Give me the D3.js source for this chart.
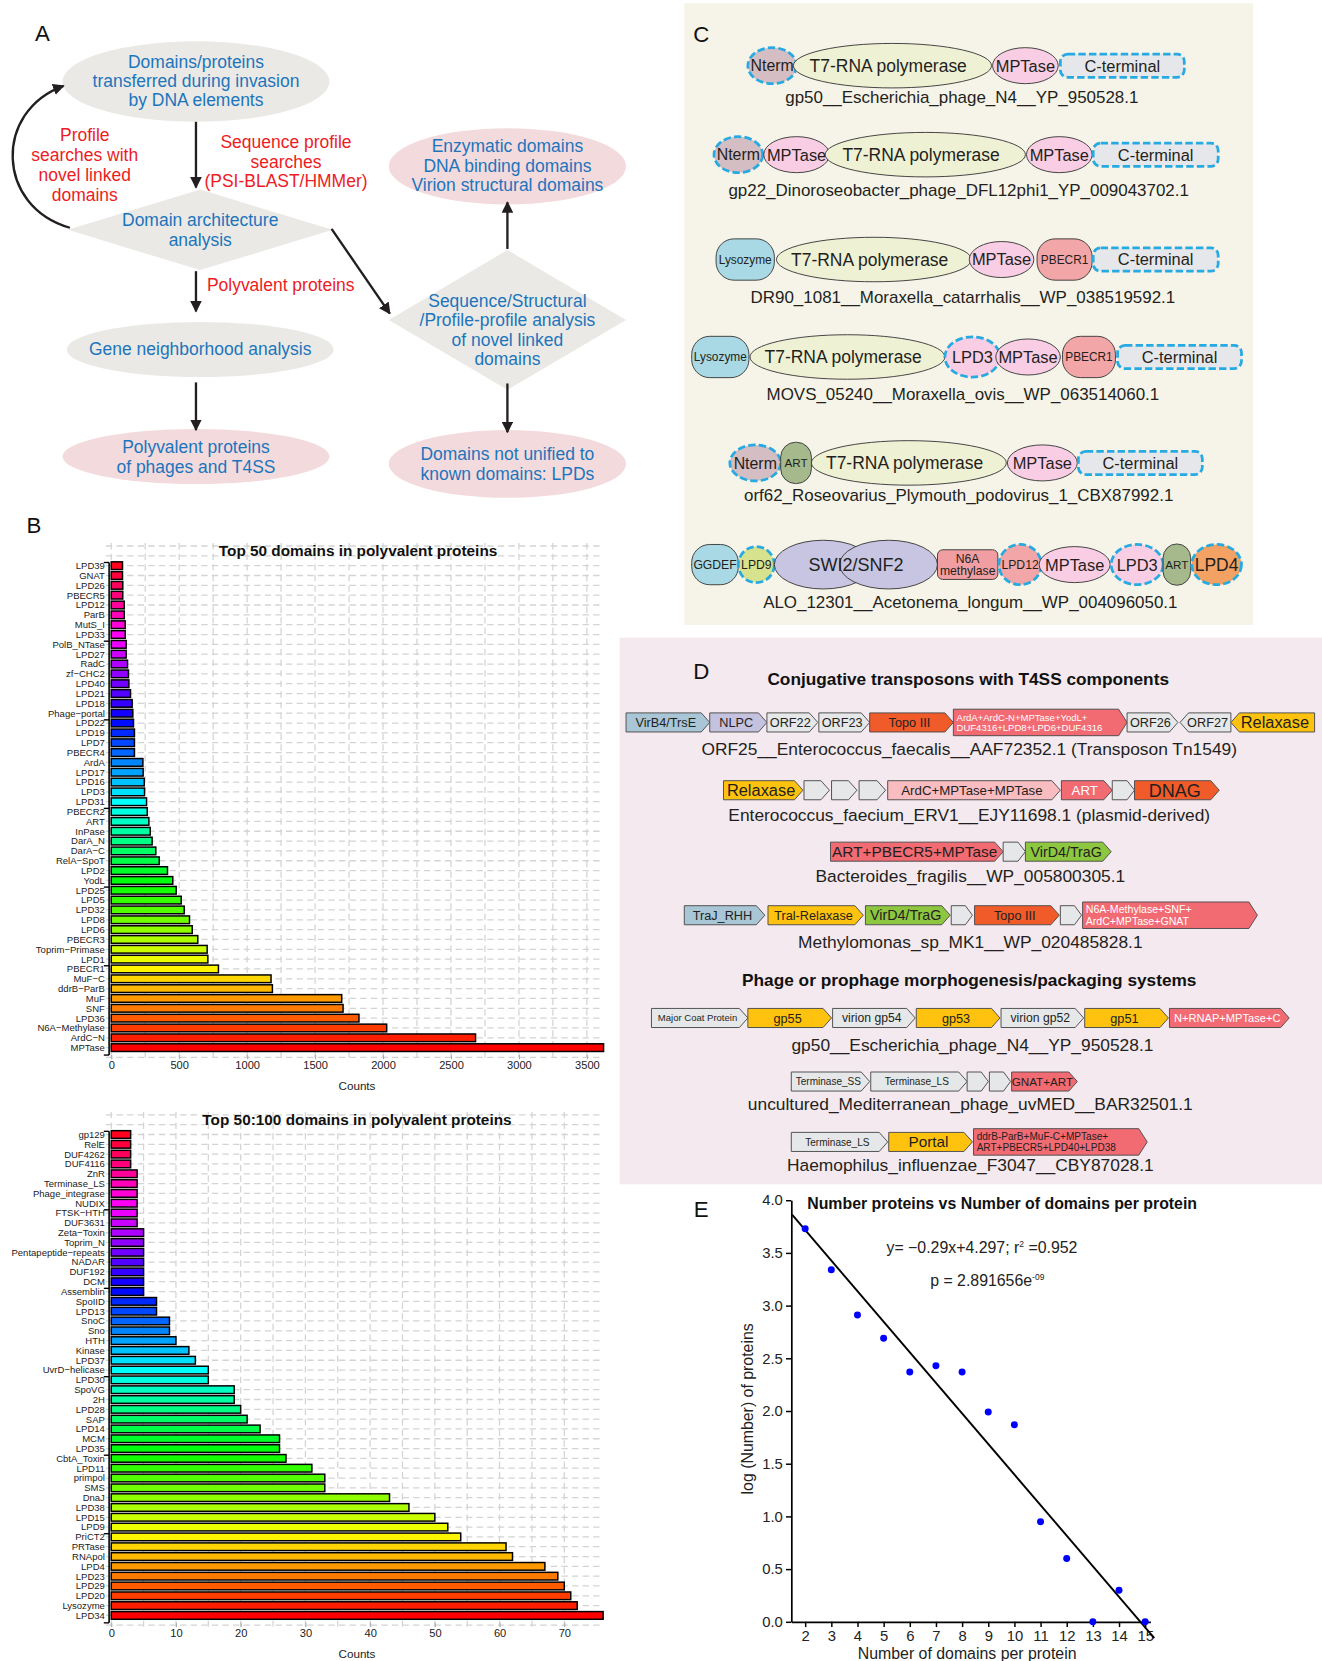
<!DOCTYPE html>
<html>
<head>
<meta charset="utf-8">
<script src="https://cdn.jsdelivr.net/npm/d3@7"></script>
<style>
  body { margin: 0; background: #fff; }
  svg { display: block; }
  text { font-family: "Liberation Sans", Arial, sans-serif; }
  .narrow { font-family: "Liberation Sans Narrow", "Liberation Sans", Arial, sans-serif; }
</style>
</head>
<body>
<svg width="1322" height="1661"></svg>
<script>
// ---------- data: panel B ----------
const top50Labels = ["LPD39","GNAT","LPD26","PBECR5","LPD12","ParB","MutS_I","LPD33","PolB_NTase","LPD27",
  "RadC","zf\u2212CHC2","LPD40","LPD21","LPD18","Phage\u2212portal","LPD22","LPD19","LPD7","PBECR4",
  "ArdA","LPD17","LPD16","LPD3","LPD31","PBECR2","ART","InPase","DarA_N","DarA\u2212C",
  "RelA\u2212SpoT","LPD2","YodL","LPD25","LPD5","LPD32","LPD8","LPD6","PBECR3","Toprim\u2212Primase",
  "LPD1","PBECR1","MuF\u2212C","ddrB\u2212ParB","MuF","SNF","LPD36","N6A\u2212Methylase","ArdC\u2212N","MPTase"];
const top50Counts = [83,83,85,85,96,96,103,103,110,110,120,127,130,142,154,159,164,171,171,171,
  233,235,243,245,260,265,277,287,301,328,353,414,453,478,515,537,576,596,637,706,
  711,789,1176,1186,1696,1706,1823,2027,2681,3623];
const top50Ticks = [0,500,1000,1500,2000,2500,3000,3500];

const next50Labels = ["gp129","RelE","DUF4262","DUF4116","ZnR","Terminase_LS","Phage_integrase","NUDIX","FTSK\u2212HTH","DUF3631",
  "Zeta\u2212Toxin","Toprim_N","Pentapeptide\u2212repeats","NADAR","DUF192","DCM","Assemblin","SpoIID","LPD13","SnoC",
  "Sno","HTH","Kinase","LPD37","UvrD\u2212helicase","LPD30","SpoVG","2H","LPD28","SAP",
  "LPD14","MCM","LPD35","CbtA_Toxin","LPD11","primpol","SMS","DnaJ","LPD38","LPD15",
  "LPD9","PriCT2","PRTase","RNApol","LPD4","LPD23","LPD29","LPD20","Lysozyme","LPD34"];
const next50Counts = [3,3,3,3,4,4,4,4,4,4,5,5,5,5,5,5,5,7,7,9,
  9,10,12,13,15,15,19,19,20,21,23,26,26,27,31,33,33,43,46,50,
  52,54,61,62,67,69,70,71,72,76];
const next50Ticks = [0,10,20,30,40,50,60,70];

// ---------- data: panel E ----------
const domainsPerProtein = [2,3,4,5,6,7,8,9,10,11,12,13,14,15];
const logProteins = [3.73,3.34,2.91,2.69,2.37,2.43,2.37,1.99,1.87,0.95,0.60,0.00,0.30,0.00];
const fitSlope = -0.29, fitIntercept = 4.297;
const eYTicks = [0,0.5,1,1.5,2,2.5,3,3.5,4];

// ---------- data: panel C (domain architectures) ----------
const archLabels = ["gp50__Escherichia_phage_N4__YP_950528.1",
  "gp22_Dinoroseobacter_phage_DFL12phi1_YP_009043702.1",
  "DR90_1081__Moraxella_catarrhalis__WP_038519592.1",
  "MOVS_05240__Moraxella_ovis__WP_063514060.1",
  "orf62_Roseovarius_Plymouth_podovirus_1_CBX87992.1",
  "ALO_12301__Acetonema_longum__WP_004096050.1"];
const archDomains = [
  ["Nterm","T7-RNA polymerase","MPTase","C-terminal"],
  ["Nterm","MPTase","T7-RNA polymerase","MPTase","C-terminal"],
  ["Lysozyme","T7-RNA polymerase","MPTase","PBECR1","C-terminal"],
  ["Lysozyme","T7-RNA polymerase","LPD3","MPTase","PBECR1","C-terminal"],
  ["Nterm","ART","T7-RNA polymerase","MPTase","C-terminal"],
  ["GGDEF","LPD9","SWI2/SNF2","N6A|methylase","LPD12","MPTase","LPD3","ART","LPD4"]];

// ---------- data: panel D (gene neighbourhoods) ----------
const geneTitles = ["Conjugative transposons with T4SS components","Phage or prophage morphogenesis/packaging systems"];
const geneLabels = ["ORF25__Enterococcus_faecalis__AAF72352.1 (Transposon Tn1549)",
  "Enterococcus_faecium_ERV1__EJY11698.1 (plasmid-derived)",
  "Bacteroides_fragilis__WP_005800305.1",
  "Methylomonas_sp_MK1__WP_020485828.1",
  "gp50__Escherichia_phage_N4__YP_950528.1",
  "uncultured_Mediterranean_phage_uvMED__BAR32501.1",
  "Haemophilus_influenzae_F3047__CBY87028.1"];
const geneRows = [
  [["VirB4/TrsE","virb",1],["NLPC","nlpc",1],["ORF22","grey",1],["ORF23","grey",1],["Topo III","topo",1],
   ["ArdA+ArdC-N+MPTase+YodL+|DUF4316+LPD8+LPD6+DUF4316","redw",1],["ORF26","grey",1],["ORF27","grey",-1],["Relaxase","yellow",-1]],
  [["Relaxase","yellow",1],["","grey",1],["","grey",1],["","grey",1],["ArdC+MPTase+MPTase","pink",1],["ART","redw",1],["","grey",1],["DNAG","topo",1]],
  [["ART+PBECR5+MPTase","red",1],["","grey",1],["VirD4/TraG","green",1]],
  [["TraJ_RHH","virb",1],["Tral-Relaxase","yellow",1],["VirD4/TraG","green",1],["","grey",1],["Topo III","topo",1],["","grey",1],
   ["N6A-Methylase+SNF+|ArdC+MPTase+GNAT","redw",1]],
  [["Major Coat Protein","grey",1],["gp55","yellow",1],["virion gp54","grey",1],["gp53","yellow",1],["virion gp52","grey",1],["gp51","yellow",1],["N+RNAP+MPTase+C","redw",1]],
  [["Terminase_SS","grey",1],["Terminase_LS","grey",1],["","grey",1],["","grey",1],["GNAT+ART","red",1]],
  [["Terminase_LS","grey",1],["Portal","yellow",1],["ddrB-ParB+MuF-C+MPTase+|ART+PBECR5+LPD40+LPD38","red",1]]];

// ---------- layout (drawing space 1248 x 1568, scaled to the page) ----------
const S = 1322 / 1248;
const svg = d3.select("svg");
const root = svg.append("g").attr("transform", `scale(${S})`);

const defs = svg.append("defs");
defs.append("marker").attr("id", "ah").attr("viewBox", "0 0 10 10").attr("refX", 9).attr("refY", 5)
  .attr("markerWidth", 11).attr("markerHeight", 11).attr("markerUnits", "userSpaceOnUse").attr("orient", "auto")
  .append("path").attr("d", "M0,0 L10,5 L0,10 Z").attr("fill", "#231f20");

function panelLetter(t, x, y) {
  root.append("text").attr("x", x).attr("y", y).attr("font-size", 21).attr("text-anchor", "middle").attr("fill", "#111").text(t);
}

// ================= Panel A: flow chart =================
const A = root.append("g");
const BLUE = "#1c75bc", RED = "#ed1c24", GREYF = "#ebe9e5", PINKF = "#f3dadd";
const flowNodes = [
  {shape: "ellipse", cx: 185, cy: 77, rx: 126, ry: 38, fill: GREYF, lines: ["Domains/proteins", "transferred during invasion", "by DNA elements"], y0: 64.5, dy: 18},
  {shape: "diamond", cx: 189, cy: 217, rx: 125, ry: 38, fill: GREYF, lines: ["Domain architecture", "analysis"], y0: 213.5, dy: 19},
  {shape: "ellipse", cx: 189, cy: 330, rx: 126, ry: 26, fill: GREYF, lines: ["Gene neighborhood analysis"], y0: 335.5, dy: 0},
  {shape: "ellipse", cx: 185, cy: 431, rx: 126, ry: 26, fill: PINKF, lines: ["Polyvalent proteins", "of phages and T4SS"], y0: 427.5, dy: 19},
  {shape: "ellipse", cx: 479, cy: 157, rx: 112, ry: 36, fill: PINKF, lines: ["Enzymatic domains", "DNA binding domains", "Virion structural domains"], y0: 143.5, dy: 18.5},
  {shape: "diamond", cx: 479, cy: 302, rx: 112, ry: 66, fill: GREYF, lines: ["Sequence/Structural", "/Profile-profile analysis", "of novel linked", "domains"], y0: 289.5, dy: 18.5},
  {shape: "ellipse", cx: 479, cy: 438, rx: 112, ry: 32, fill: PINKF, lines: ["Domains not unified to", "known domains: LPDs"], y0: 434.5, dy: 18.5}
];
flowNodes.forEach(n => {
  if (n.shape === "ellipse") {
    A.append("ellipse").attr("cx", n.cx).attr("cy", n.cy).attr("rx", n.rx).attr("ry", n.ry).attr("fill", n.fill);
  } else {
    A.append("path").attr("d", `M${n.cx - n.rx},${n.cy} L${n.cx},${n.cy - n.ry} L${n.cx + n.rx},${n.cy} L${n.cx},${n.cy + n.ry} Z`).attr("fill", n.fill);
  }
  n.lines.forEach((l, i) => A.append("text").attr("class", "narrow").attr("x", n.cx).attr("y", n.y0 + i * n.dy)
    .attr("text-anchor", "middle").attr("font-size", 16.5).attr("fill", BLUE).text(l));
});
const redNotes = [
  {x: 270, y0: 139.5, lines: ["Sequence profile", "searches", "(PSI-BLAST/HMMer)"]},
  {x: 80, y0: 133.5, lines: ["Profile", "searches with", "novel linked", "domains"]},
  {x: 265, y0: 274.5, lines: ["Polyvalent proteins"]}
];
redNotes.forEach(n => n.lines.forEach((l, i) => A.append("text").attr("class", "narrow").attr("x", n.x).attr("y", n.y0 + i * 18.7)
  .attr("text-anchor", "middle").attr("font-size", 16.5).attr("fill", RED).text(l)));
const flowArrows = [[185, 115, 185, 177], [185, 256, 185, 294], [185, 361, 185, 406], [313, 216, 368, 296], [479, 235, 479, 191], [479, 362, 479, 408]];
flowArrows.forEach(a => A.append("line").attr("x1", a[0]).attr("y1", a[1]).attr("x2", a[2]).attr("y2", a[3])
  .attr("stroke", "#231f20").attr("stroke-width", 2.2).attr("marker-end", "url(#ah)"));
A.append("path").attr("d", "M66,215 C -4,195 -6,105 60,81").attr("fill", "none").attr("stroke", "#231f20")
  .attr("stroke-width", 2.2).attr("marker-end", "url(#ah)");
panelLetter("A", 40, 39);

// ================= Panel B: bar charts =================
function drawBars(labels, counts, cfg) {
  const g = root.append("g");
  const n = labels.length;
  const x = d3.scaleLinear().domain([0, cfg.tickMax]).range([105, cfg.tickEnd]);
  const y = d3.scalePoint().domain(labels).range([cfg.top, cfg.bottom]);
  const step = y.step(), bh = step * 0.78;
  const gridTop = cfg.top - 2.3 * step;
  // grid
  g.append("g").selectAll("line").data(d3.range(-2, n + 1)).join("line")
    .attr("x1", 100).attr("x2", 570)
    .attr("y1", k => cfg.top + k * step).attr("y2", k => cfg.top + k * step)
    .attr("stroke", "#d4d4d4").attr("stroke-width", 1.2).attr("stroke-dasharray", "6,4");
  g.append("g").selectAll("line").data(d3.range(0, cfg.tickMax + 1e-9, cfg.minor)).join("line")
    .attr("x1", d => x(d)).attr("x2", d => x(d)).attr("y1", gridTop).attr("y2", cfg.bottom + 12)
    .attr("stroke", "#d4d4d4").attr("stroke-width", 1.2).attr("stroke-dasharray", "6,4");
  // title
  g.append("text").attr("x", cfg.titleX).attr("y", cfg.titleY).attr("text-anchor", "middle")
    .attr("font-size", 14.5).attr("font-weight", "bold").attr("fill", "#111").text(cfg.title);
  // bars
  g.append("g").selectAll("rect").data(labels).join("rect")
    .attr("x", x(0)).attr("y", d => y(d) - bh / 2)
    .attr("width", (d, i) => x(counts[i]) - x(0)).attr("height", bh)
    .attr("fill", (d, i) => d3.hsl((n - 1 - i) / n * 360, 1, 0.5))
    .attr("stroke", "#000").attr("stroke-width", 1.4);
  // y axis
  g.append("line").attr("x1", 103).attr("x2", 103).attr("y1", cfg.top - 3).attr("y2", cfg.bottom + 7)
    .attr("stroke", "#000").attr("stroke-width", 1.5);
  const tickRows = [0, 8, 16, 25, 33, 41];
  g.append("g").selectAll("line").data(tickRows).join("line")
    .attr("x1", 98).attr("x2", 103).attr("y1", k => y(labels[k]) - 3).attr("y2", k => y(labels[k]) - 3)
    .attr("stroke", "#000").attr("stroke-width", 1.3);
  g.append("line").attr("x1", 98).attr("x2", 103).attr("y1", cfg.bottom + 7).attr("y2", cfg.bottom + 7)
    .attr("stroke", "#000").attr("stroke-width", 1.3);
  g.append("g").selectAll("text").data(labels).join("text")
    .attr("x", 99).attr("y", d => y(d) + 3.2).attr("text-anchor", "end")
    .attr("font-size", 9).attr("fill", "#222").text(d => d);
  // x axis
  const ax = g.append("g").attr("transform", `translate(0,${cfg.bottom + 7})`)
    .call(d3.axisBottom(x).tickValues(cfg.ticks).tickFormat(d3.format("d")).tickSize(4).tickPadding(2));
  ax.select(".domain").remove();
  ax.selectAll(".tick line").attr("stroke", "#aaa");
  ax.selectAll(".tick text").attr("font-size", 10.5).attr("fill", "#222").attr("font-family", "Liberation Sans, Arial");
  g.append("text").attr("x", 337).attr("y", cfg.bottom + 40).attr("text-anchor", "middle")
    .attr("font-size", 11).attr("fill", "#222").text("Counts");
}
drawBars(top50Labels, top50Counts, {top: 534, bottom: 989, tickMax: 3500, tickEnd: 554, minor: 250, ticks: top50Ticks,
  title: "Top 50 domains in polyvalent proteins", titleX: 338, titleY: 525});
drawBars(next50Labels, next50Counts, {top: 1071, bottom: 1525, tickMax: 70, tickEnd: 532.7, minor: 5, ticks: next50Ticks,
  title: "Top 50:100 domains in polyvalent proteins", titleX: 337, titleY: 1062});
panelLetter("B", 32, 503);

// ================= Panel C: domain architectures =================
const C = root.append("g");
C.append("rect").attr("x", 646).attr("y", 3).attr("width", 537).attr("height", 587).attr("fill", "#f6f4e8");
const DASH = "#27aae1";
const domainStyle = {
  "Nterm": {shape: "ellipse", h: 34, fill: "#d4bdc3", dashed: true, fs: 15},
  "T7-RNA polymerase": {shape: "ellipse", h: 42, fill: "#eff1d4", fs: 16.5},
  "MPTase": {shape: "ellipse", h: 34, fill: "#f9cde4", fs: 15.5},
  "C-terminal": {shape: "pill", h: 22, r: 7, fill: "#e6e7ea", dashed: true, fs: 15.5},
  "Lysozyme": {shape: "pill", h: 39, r: 17, fill: "#a9d9e4", fs: 11.2},
  "PBECR1": {shape: "pill", h: 39, r: 17, fill: "#f3a6a7", fs: 11.2},
  "LPD3": {shape: "ellipse", h: 38, fill: "#f9cde4", dashed: true, fs: 15.5},
  "ART": {shape: "pill", h: 39, r: 14, fill: "#a5b98c", fs: 11},
  "GGDEF": {shape: "pill", h: 38, r: 17, fill: "#a9d9e4", fs: 11.5},
  "LPD9": {shape: "ellipse", h: 34, fill: "#d7e28f", dashed: true, fs: 11.5},
  "SWI2/SNF2": {shape: "double", h: 46, fill: "#c8c5e2", fs: 17},
  "N6A|methylase": {shape: "pill", h: 28, r: 5, fill: "#f09ea1", fs: 11.5},
  "LPD12": {shape: "ellipse", h: 38, fill: "#f3a6a7", dashed: true, fs: 11.5},
  "LPD4": {shape: "ellipse", h: 38, fill: "#f3a263", dashed: true, fs: 16.5}
};
const archSpans = [
  [[706, 752], [749, 936], [937, 999], [1001, 1118]],
  [[674, 720], [721, 783], [779, 968], [969, 1031], [1032, 1150]],
  [[676, 731], [733, 917], [915, 976], [979, 1031], [1032, 1150]],
  [[653, 707], [708, 892], [892, 944], [940, 1001], [1003, 1053], [1055, 1172]],
  [[689, 737], [737, 766], [766, 950], [951, 1017], [1018, 1135]],
  [[653, 697], [697, 731], [731, 885], [885, 942], [943, 983], [981, 1048], [1049, 1098], [1098, 1124], [1125, 1172]]];
const archY = [62, 146, 245, 337, 437, 533];
const archLabelY = [97, 185, 286, 378, 473, 574];
const archLabelX = [908, 905, 909, 909, 905, 916];

archDomains.forEach((row, r) => {
  const cy = archY[r];
  row.forEach((name, i) => {
    const st = domainStyle[name];
    const [x0, x1] = archSpans[r][i];
    const cx = (x0 + x1) / 2, w = x1 - x0;
    const stroke = st.dashed ? DASH : "#3d3d3d", sw = st.dashed ? 2.6 : 0.9, da = st.dashed ? "7,3" : null;
    if (st.shape === "ellipse") {
      C.append("ellipse").attr("cx", cx).attr("cy", cy).attr("rx", w / 2).attr("ry", st.h / 2)
        .attr("fill", st.fill).attr("stroke", stroke).attr("stroke-width", sw).attr("stroke-dasharray", da);
    } else if (st.shape === "pill") {
      C.append("rect").attr("x", x0).attr("y", cy - st.h / 2).attr("width", w).attr("height", st.h)
        .attr("rx", Math.min(st.r, w / 2)).attr("fill", st.fill).attr("stroke", stroke).attr("stroke-width", sw).attr("stroke-dasharray", da);
    } else {
      [x0 + w * 0.3, x0 + w * 0.7].forEach(c => C.append("ellipse").attr("cx", c).attr("cy", cy).attr("rx", w * 0.3).attr("ry", st.h / 2)
        .attr("fill", st.fill).attr("stroke", "#3d3d3d").attr("stroke-width", 0.9));
    }
    const parts = name.split("|");
    parts.forEach((p, k) => C.append("text").attr("x", name === "T7-RNA polymerase" ? cx - 4 : cx)
      .attr("y", cy + st.fs * 0.36 + (k - (parts.length - 1) / 2) * st.fs * 1.0)
      .attr("text-anchor", "middle").attr("font-size", st.fs).attr("fill", "#231f20").text(p));
  });
  C.append("text").attr("x", archLabelX[r]).attr("y", archLabelY[r]).attr("text-anchor", "middle")
    .attr("font-size", 16).attr("fill", "#231f20").text(archLabels[r]);
});
panelLetter("C", 662, 40);

// ================= Panel D: gene neighbourhoods =================
const D = root.append("g");
D.append("rect").attr("x", 585).attr("y", 602).attr("width", 663).attr("height", 516).attr("fill", "#f4e9ef");
const geneFill = {virb: "#a8c6d5", nlpc: "#c5c2e0", grey: "#e6e7e8", topo: "#f15a29", red: "#f26b73", redw: "#f26b73",
  yellow: "#ffc20e", pink: "#f9bcc0", green: "#8dc63f"};
const geneSpans = [
  [[591, 670], [670, 724], [724, 772], [773, 821], [821, 900], [900, 1064], [1064, 1112], [1114, 1162], [1162, 1241]],
  [[683, 758], [759, 783], [785, 809], [811, 836], [838, 1001], [1002, 1050], [1050, 1071], [1071, 1151]],
  [[784, 947], [947, 968], [968, 1049]],
  [[646, 722], [725, 815], [817, 897], [898, 918], [920, 1000], [1001, 1021], [1022, 1187]],
  [[615, 706], [706, 785], [786, 864], [865, 944], [945, 1023], [1024, 1103], [1104, 1217]],
  [[747, 821], [822, 913], [913, 933], [934, 954], [955, 1017]],
  [[747, 838], [839, 918], [919, 1083]]];
const geneFont = [[12, 12, 12, 12, 12, 9, 12, 12, 15.5], [15.5, 12, 12, 12, 12.5, 12.5, 12, 17], [14.5, 12, 13.5],
  [12, 12, 13.5, 12, 12, 12, 10], [9, 12, 11.5, 12, 11.5, 12, 10.5], [9.5, 9.5, 12, 12, 11], [9.5, 14.5, 9.5]];
const geneY = [682, 746, 804, 864, 961, 1021, 1078];
const geneLabelY = [713, 775, 833, 895, 992, 1048, 1105];
const geneLabelX = [915, 915, 916, 916, 918, 916, 916];

function genePath(x0, x1, cy, h, dir) {
  const tip = Math.min(8, (x1 - x0) / 3), t = cy - h / 2, b = cy + h / 2;
  return dir > 0
    ? `M${x0},${t} L${x1 - tip},${t} L${x1},${cy} L${x1 - tip},${b} L${x0},${b} Z`
    : `M${x1},${t} L${x0 + tip},${t} L${x0},${cy} L${x0 + tip},${b} L${x1},${b} Z`;
}
geneRows.forEach((row, r) => {
  const cy = geneY[r];
  row.forEach(([name, kind, dir], i) => {
    const [x0, x1] = geneSpans[r][i];
    const parts = name ? name.split("|") : [];
    const h = parts.length > 1 ? 25 : 18;
    D.append("path").attr("d", genePath(x0, x1, cy, h, dir)).attr("fill", geneFill[kind])
      .attr("stroke", "#4d4d4d").attr("stroke-width", 0.9);
    const fs = geneFont[r][i];
    const tx = parts.length > 1 ? x0 + 3 : (x0 + x1) / 2 - dir * 2;
    parts.forEach((p, k) => D.append("text").attr("class", "narrow")
      .attr("x", tx).attr("y", cy + fs * 0.36 + (k - (parts.length - 1) / 2) * fs * 1.1)
      .attr("text-anchor", parts.length > 1 ? "start" : "middle").attr("font-size", fs)
      .attr("fill", kind === "redw" ? "#fff" : "#231f20").text(p));
  });
  D.append("text").attr("class", "narrow").attr("x", geneLabelX[r]).attr("y", geneLabelY[r]).attr("text-anchor", "middle")
    .attr("font-size", 16.4).attr("fill", "#231f20").text(geneLabels[r]);
});
D.append("text").attr("class", "narrow").attr("x", 914).attr("y", 647).attr("text-anchor", "middle")
  .attr("font-size", 16.3).attr("font-weight", "bold").attr("fill", "#111").text(geneTitles[0]);
D.append("text").attr("class", "narrow").attr("x", 915).attr("y", 931).attr("text-anchor", "middle")
  .attr("font-size", 16.3).attr("font-weight", "bold").attr("fill", "#111").text(geneTitles[1]);
panelLetter("D", 662, 641);

// ================= Panel E: scatter + fit =================
const E = root.append("g");
const xE = d3.scaleLinear().domain([1.47, 15.2]).range([747, 1086]);
const yE = d3.scaleLinear().domain([0, 4]).range([1531, 1133]);
const yAx = E.append("g").attr("transform", "translate(747,0)")
  .call(d3.axisLeft(yE).tickValues(eYTicks).tickFormat(d3.format(".1f")).tickSize(5).tickSizeOuter(0));
const xAx = E.append("g").attr("transform", "translate(0,1531)")
  .call(d3.axisBottom(xE).tickValues(domainsPerProtein).tickSize(5).tickSizeOuter(0));
[yAx, xAx].forEach(a => {
  a.select(".domain").attr("stroke", "#000").attr("stroke-width", 1.6);
  a.selectAll(".tick line").attr("stroke", "#000").attr("stroke-width", 1.4);
  a.selectAll(".tick text").attr("font-size", 14).attr("fill", "#222")
    .attr("font-family", "Liberation Sans Narrow, Liberation Sans, Arial");
});
const fitX = [1.5, 15.35];
E.append("line").attr("x1", xE(fitX[0])).attr("y1", yE(fitSlope * fitX[0] + fitIntercept))
  .attr("x2", xE(fitX[1])).attr("y2", yE(fitSlope * fitX[1] + fitIntercept))
  .attr("stroke", "#000").attr("stroke-width", 1.8);
E.selectAll("circle").data(domainsPerProtein).join("circle")
  .attr("cx", d => xE(d)).attr("cy", (d, i) => yE(logProteins[i])).attr("r", 3.3).attr("fill", "#0000ff");
E.append("text").attr("class", "narrow").attr("x", 762).attr("y", 1141).attr("font-size", 15)
  .attr("font-weight", "bold").attr("fill", "#111").text("Number proteins vs Number of domains per protein");
const eq = E.append("text").attr("class", "narrow").attr("x", 927).attr("y", 1183).attr("text-anchor", "middle")
  .attr("font-size", 15).attr("fill", "#222");
eq.append("tspan").text("y= \u22120.29x+4.297; r");
eq.append("tspan").attr("dy", -6).attr("font-size", 8).text("2");
eq.append("tspan").attr("dy", 6).text(" =0.952");
const pv = E.append("text").attr("class", "narrow").attr("x", 932).attr("y", 1214).attr("text-anchor", "middle")
  .attr("font-size", 15).attr("fill", "#222");
pv.append("tspan").text("p = 2.891656e");
pv.append("tspan").attr("dy", -6).attr("font-size", 8).text("-09");
E.append("text").attr("class", "narrow").attr("transform", "translate(711,1330) rotate(-90)").attr("text-anchor", "middle")
  .attr("font-size", 15).attr("fill", "#222").text("log  (Number) of proteins");
E.append("text").attr("class", "narrow").attr("x", 913).attr("y", 1566).attr("text-anchor", "middle")
  .attr("font-size", 15).attr("fill", "#222").text("Number of domains per protein");
panelLetter("E", 662, 1149);
</script>
</body>
</html>
